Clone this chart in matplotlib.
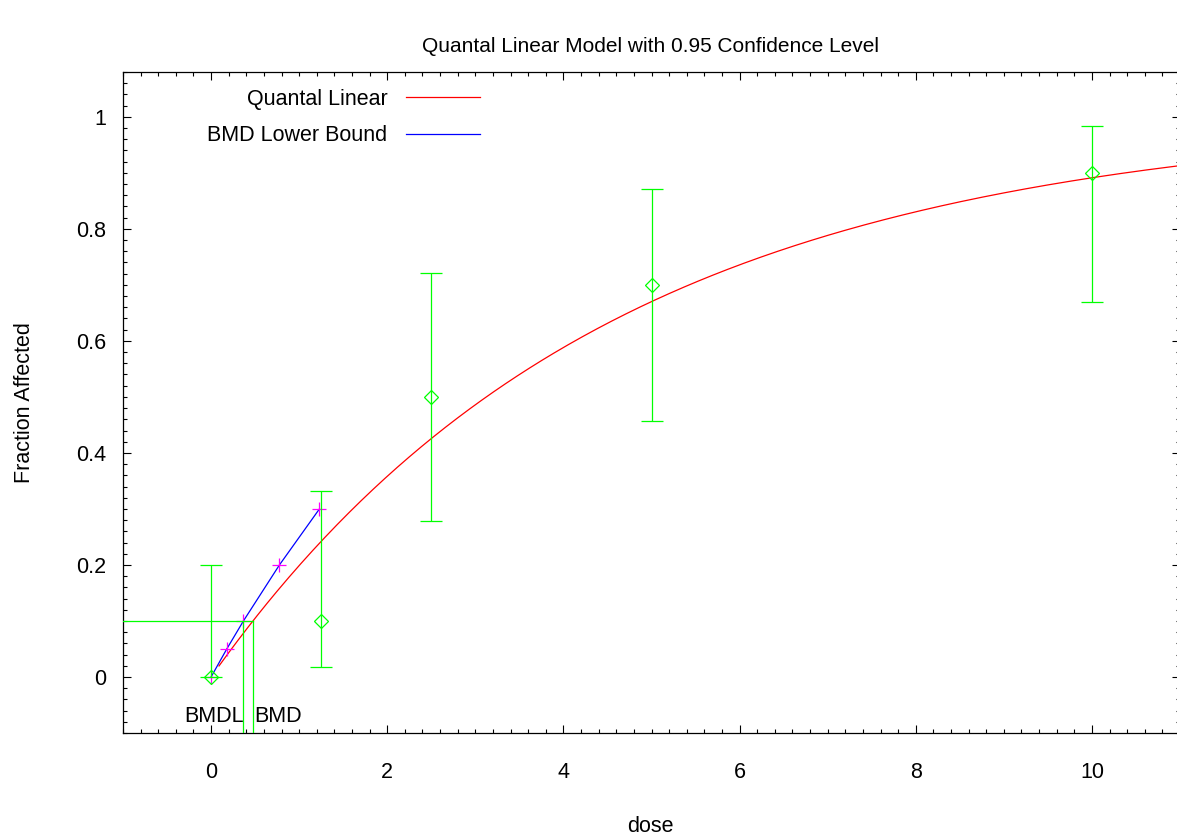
import numpy as np
import matplotlib
matplotlib.use("Agg")
import matplotlib.pyplot as plt
from matplotlib.ticker import MultipleLocator

plt.rcParams['font.family'] = ['Liberation Sans', 'DejaVu Sans']

# observed data
doses = [0, 1.25, 2.5, 5, 10]
frac_affected = [0.0, 0.1, 0.5, 0.7, 0.9]
ci_lower = [0.0, 0.018, 0.278, 0.457, 0.67]
ci_upper = [0.2, 0.332, 0.722, 0.872, 0.983]

# fitted quantal linear model: P(d) = g + (1-g)(1-exp(-b d))
background = 0.0
slope = 0.2218
curve_start = 0.09
curve_end = 11.0

# benchmark dose
bmr = 0.1
bmd = 0.475
bmdl = 0.367

# BMDL lower-bound curve points
bmdl_doses = [0.0, 0.178, 0.367, 0.776, 1.23]
bmdl_resp = [0.0, 0.05, 0.1, 0.2, 0.3]

W, H = 1177, 838
fig = plt.figure(figsize=(W / 100, H / 100), dpi=100)
ax = fig.add_axes([123 / W, 1 - 733 / H, (1180 - 123) / W, (733 - 72) / H])

green = '#00ff00'
fs = 15.5

# model curve
d = np.linspace(curve_start, curve_end, 400)
p = background + (1 - background) * (1 - np.exp(-slope * d))
ax.plot(d, p, color='#ff0000', lw=0.9, label='Quantal Linear', zorder=3)

# BMDL line + markers
ax.plot(bmdl_doses, bmdl_resp, color='#0000ff', lw=0.9, label='BMD Lower Bound', zorder=2)
ax.plot(bmdl_doses, bmdl_resp, ls='none', marker='+', ms=9.5, mew=0.9,
        color='#ff00ff', zorder=3.5)

# error bars and observed points
yerr = [np.array(frac_affected) - np.array(ci_lower), np.array(ci_upper) - np.array(frac_affected)]
ax.errorbar(doses, frac_affected, yerr=yerr, fmt='none', ecolor=green, elinewidth=0.9,
            capsize=8, capthick=0.9, zorder=4)
ax.plot(doses, frac_affected, ls='none', marker='D', ms=7.5, mfc='none', mec=green,
        mew=0.9, zorder=5)

# BMD / BMDL guides
ymin, ymax = -0.1, 1.08
ax.plot([-1, bmd], [bmr, bmr], color=green, lw=0.9, zorder=4)
ax.plot([bmd, bmd], [ymin, bmr], color=green, lw=0.9, zorder=4)
ax.plot([bmdl, bmdl], [ymin, bmr], color=green, lw=0.9, zorder=4)
ax.text(bmdl, -0.071, 'BMDL', ha='right', va='center', fontsize=fs)
ax.text(bmd + 0.01, -0.071, 'BMD', ha='left', va='center', fontsize=fs)

ax.set_xlim(-1, 11)
ax.set_ylim(ymin, ymax)

ax.xaxis.set_major_locator(MultipleLocator(2))
ax.xaxis.set_minor_locator(MultipleLocator(0.2))
ax.yaxis.set_major_locator(MultipleLocator(0.2))
ax.yaxis.set_minor_locator(MultipleLocator(0.02))
ax.xaxis.set_major_formatter(plt.FuncFormatter(lambda v, pos: f'{v:g}'))
ax.yaxis.set_major_formatter(plt.FuncFormatter(lambda v, pos: f'{v:g}'))
ax.tick_params(which='both', direction='in', top=True, right=True, labelsize=fs, width=0.8)
ax.tick_params(which='major', length=6)
ax.tick_params(which='minor', length=3)
ax.tick_params(axis='x', which='major', pad=21)
ax.tick_params(axis='y', which='major', pad=12)
for s in ax.spines.values():
    s.set_linewidth(0.9)

fig.text(650 / W, 1 - 826 / H, 'dose', ha='center', va='center', fontsize=fs)
ax.set_ylabel('Fraction Affected', fontsize=fs, labelpad=30)
fig.text(650 / W, 1 - 47 / H, 'Quantal Linear Model with 0.95 Confidence Level',
         ha='center', va='center', fontsize=15)

leg = ax.legend(loc='upper right', bbox_to_anchor=(480 / W, 1 - 89 / H),
                bbox_transform=fig.transFigure, frameon=False, markerfirst=False,
                fontsize=fs, handlelength=3.45, handletextpad=0.85, labelspacing=0.7,
                borderpad=0, borderaxespad=0)

fig.savefig('out.png', dpi=100)
